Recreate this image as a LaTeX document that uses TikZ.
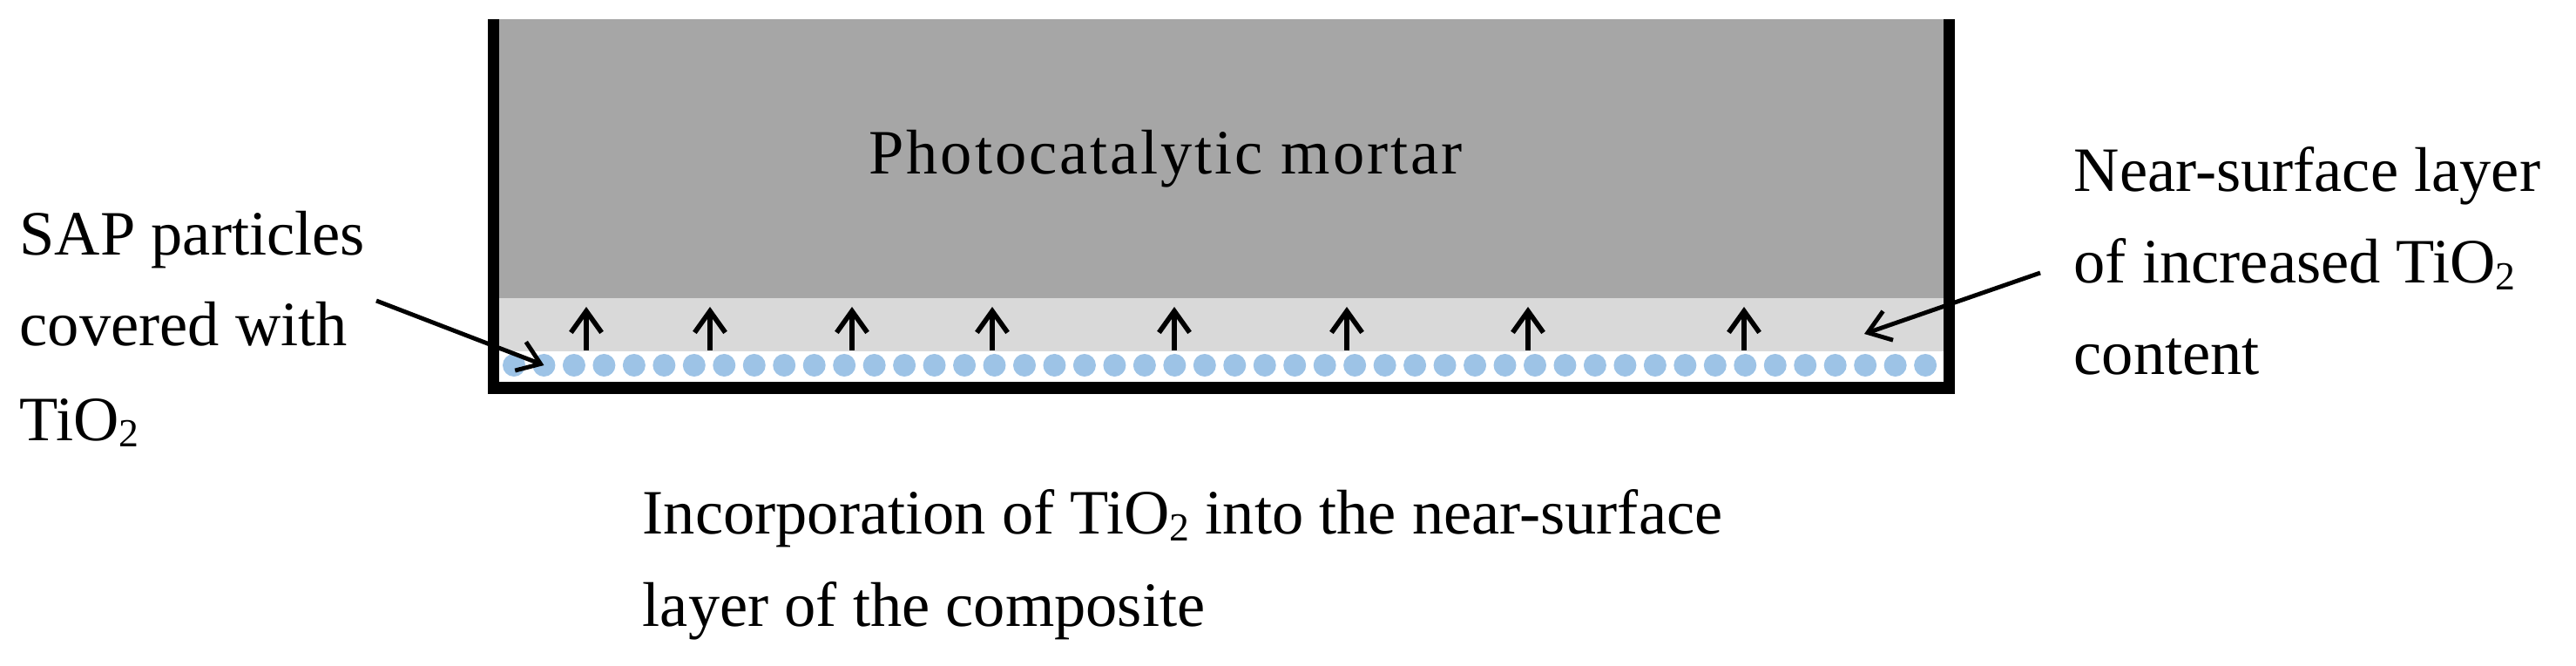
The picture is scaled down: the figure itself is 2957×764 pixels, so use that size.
\documentclass[tikz,border=0pt]{standalone}
\usepackage{fontspec}
\setmainfont{Liberation Serif}
\usetikzlibrary{arrows.meta}
\definecolor{mortar}{HTML}{A6A6A6}
\definecolor{nearlayer}{HTML}{D9D9D9}
\definecolor{sapblue}{HTML}{9DC3E6}
\newcommand{\subtwo}{\raisebox{-0.1em}{\fontsize{13}{13}\selectfont 2}}
\begin{document}
\begin{tikzpicture}[x=0.01cm,y=-0.01cm,
  lbl/.style={anchor=base west, inner sep=0, font=\fontsize{20.6}{29.9}\selectfont},
  wall/.style={line width=0.13cm, line join=miter},
  uparrow/.style={line width=1.6pt, -{Straight Barb[length=7pt,width=10pt]}},
  pointer/.style={line width=1.4pt, -{Straight Barb[length=7pt,width=10pt]}},
  particle/.style={circle, fill=sapblue, minimum size=0.26cm, inner sep=0}]
\useasboundingbox (0,0) rectangle (2957,764);
% layers
\fill[mortar] (566,22) rectangle (2237,342);
\fill[nearlayer] (566,342) rectangle (2237,403);
% SAP particles
\foreach \i in {0,...,47} \node[particle] (p\i) at ({590+\i*34.47},419) {};
% walls
\draw[wall] (566,22) -- (566,445) -- (2237,445) -- (2237,22);
% upward arrows
\foreach \x [count=\k] in {673,815,978,1139,1348,1546,1754,2002} {
  \coordinate (ua\k) at (\x,402);
  \coordinate (ub\k) at (\x,352);
  \draw[uparrow] (ua\k) -- (ub\k);
}
% labels
\node[lbl] (mortar) at (997,200) {\addfontfeatures{LetterSpace=4}Photocatalytic mortar};
\node[lbl] (sap1) at (22,293) {SAP particles};
\node[lbl] (sap2) at (22,397) {covered with};
\node[lbl] (sap3) at (22,505) {TiO\subtwo};
\node[lbl] (ns1) at (2380,220) {Near-surface layer};
\node[lbl] (ns2) at (2380,325) {of increased TiO\subtwo};
\node[lbl] (ns3) at (2380,430) {content};
\node[lbl] (inc1) at (737,613) {Incorporation of TiO\subtwo{} into the near-surface};
\node[lbl] (inc2) at (737,718) {layer of the composite};
% pointers
\coordinate (sapfrom) at (432,345);
\draw[pointer] (sapfrom) -- (p1.center);
\coordinate (layerfrom) at (2342,313);
\coordinate (layerpt) at (2140,383);
\draw[pointer] (layerfrom) -- (layerpt);
\end{tikzpicture}
\end{document}
